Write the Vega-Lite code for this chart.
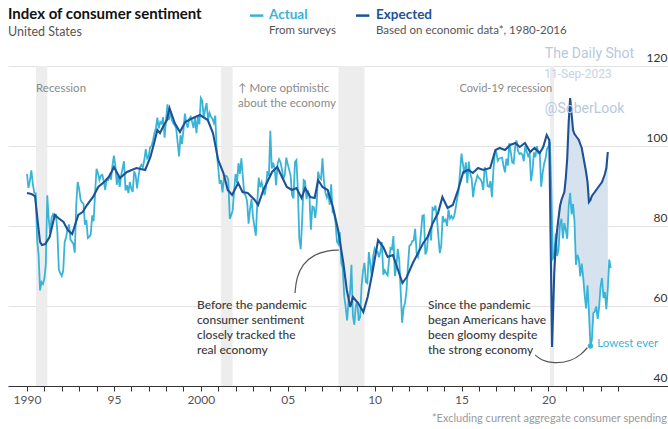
{
  "$schema": "https://vega.github.io/schema/vega-lite/v6.json",
  "width": 660,
  "height": 320,
  "autosize": "none",
  "padding": {"left": 8, "top": 66, "right": 0, "bottom": 43},
  "background": "white",
  "config": {"view": {"stroke": null}},
  "encoding": {
    "x": {
      "field": "x", "type": "quantitative",
      "scale": {"domain": [1988.907, 2026.88], "nice": false, "zero": false},
      "axis": {
        "title": null, "grid": false,
        "values": [1990,1991,1992,1993,1994,1995,1996,1997,1998,1999,2000,2001,2002,2003,2004,2005,2006,2007,2008,2009,2010,2011,2012,2013,2014,2015,2016,2017,2018,2019,2020,2021,2022,2023,2024],
        "labelExpr": "datum.value % 5 != 0 ? '' : ((datum.value == 1990 || datum.value == 2000) ? datum.value + '' : slice(datum.value + '', 2))",
        "domainColor": "#333333", "domainWidth": 1,
        "tickColor": "#333333", "tickSize": 5, "tickWidth": 1,
        "labelFont": "Lato", "labelFontSize": 12, "labelColor": "#555555",
        "labelPadding": 3, "labelOverlap": false, "labelBound": false, "labelFlush": false
      }
    },
    "y": {
      "field": "y", "type": "quantitative",
      "scale": {"domain": [40, 120], "nice": false, "zero": false},
      "axis": {
        "title": null, "orient": "right", "values": [40, 60, 80, 100, 120],
        "grid": true, "gridColor": "#e2e2e2", "gridWidth": 1,
        "domain": false, "ticks": false,
        "labelAlign": "right", "labelBaseline": "alphabetic", "labelPadding": -1, "labelOffset": -5,
        "labelFont": "Lato", "labelFontSize": 12, "labelColor": "#333333",
        "labelBound": false, "labelFlush": false
      }
    }
  },
  "layer": [
    {
      "data": {"values": [
        {"x": 1990.52, "x2": 1991.17, "y": 40, "y2": 120},
        {"x": 2001.17, "x2": 2001.83, "y": 40, "y2": 120},
        {"x": 2007.92, "x2": 2009.42, "y": 40, "y2": 120},
        {"x": 2020.08, "x2": 2020.33, "y": 40, "y2": 120}
      ]},
      "mark": {"type": "rect", "color": "#ededed"},
      "encoding": {"x2": {"field": "x2"}, "y2": {"field": "y2"}}
    },
    {
      "data": {"values": [
        {"x": 2020.417, "y": 78.1, "y2": 75},
        {"x": 2020.5, "y": 72.5, "y2": 79},
        {"x": 2020.583, "y": 74.1, "y2": 82},
        {"x": 2020.667, "y": 80.4, "y2": 85},
        {"x": 2020.75, "y": 81.8, "y2": 86.5},
        {"x": 2020.833, "y": 76.9, "y2": 87.5},
        {"x": 2020.917, "y": 80.7, "y2": 88.5},
        {"x": 2021.0, "y": 79.0, "y2": 92},
        {"x": 2021.083, "y": 76.8, "y2": 97},
        {"x": 2021.167, "y": 84.9, "y2": 106},
        {"x": 2021.25, "y": 88.3, "y2": 112},
        {"x": 2021.333, "y": 82.9, "y2": 108},
        {"x": 2021.417, "y": 85.5, "y2": 104},
        {"x": 2021.5, "y": 81.2, "y2": 103},
        {"x": 2021.583, "y": 70.3, "y2": 102.5},
        {"x": 2021.667, "y": 72.8, "y2": 102},
        {"x": 2021.75, "y": 71.7, "y2": 101.5},
        {"x": 2021.833, "y": 67.4, "y2": 100.5},
        {"x": 2021.917, "y": 70.6, "y2": 99.5},
        {"x": 2022.0, "y": 67.2, "y2": 97.5},
        {"x": 2022.083, "y": 62.8, "y2": 95.5},
        {"x": 2022.167, "y": 59.4, "y2": 93.5},
        {"x": 2022.25, "y": 65.2, "y2": 91},
        {"x": 2022.333, "y": 58.4, "y2": 86},
        {"x": 2022.417, "y": 50.0, "y2": 86.5},
        {"x": 2022.5, "y": 51.5, "y2": 87.5},
        {"x": 2022.583, "y": 58.2, "y2": 88},
        {"x": 2022.667, "y": 58.6, "y2": 88.5},
        {"x": 2022.75, "y": 59.9, "y2": 89},
        {"x": 2022.833, "y": 56.8, "y2": 89.5},
        {"x": 2022.917, "y": 59.7, "y2": 90},
        {"x": 2023.0, "y": 64.9, "y2": 90.5},
        {"x": 2023.083, "y": 67.0, "y2": 91},
        {"x": 2023.167, "y": 62.0, "y2": 92},
        {"x": 2023.25, "y": 63.5, "y2": 93},
        {"x": 2023.333, "y": 59.2, "y2": 94.5},
        {"x": 2023.417, "y": 64.4, "y2": 98.5}
      ]},
      "mark": {"type": "area", "color": "#d6e2ee", "opacity": 1},
      "encoding": {"y2": {"field": "y2"}}
    },
    {
      "data": {"values": [
        {"x":1990,"y":93.0},{"x":1990.083,"y":89.5},{"x":1990.167,"y":91.3},{"x":1990.25,"y":93.9},{"x":1990.333,"y":90.6},{"x":1990.417,"y":88.3},{"x":1990.5,"y":88.2},{"x":1990.583,"y":76.4},{"x":1990.667,"y":72.8},{"x":1990.75,"y":63.9},{"x":1990.833,"y":66.0},{"x":1990.917,"y":65.5},
        {"x":1991,"y":66.8},{"x":1991.083,"y":70.4},{"x":1991.167,"y":87.7},{"x":1991.25,"y":81.8},{"x":1991.333,"y":78.3},{"x":1991.417,"y":82.1},{"x":1991.5,"y":82.9},{"x":1991.583,"y":82.0},{"x":1991.667,"y":83.0},{"x":1991.75,"y":78.3},{"x":1991.833,"y":69.1},{"x":1991.917,"y":68.2},
        {"x":1992,"y":67.5},{"x":1992.083,"y":68.8},{"x":1992.167,"y":76.0},{"x":1992.25,"y":77.2},{"x":1992.333,"y":79.2},{"x":1992.417,"y":80.4},{"x":1992.5,"y":76.6},{"x":1992.583,"y":76.1},{"x":1992.667,"y":75.6},{"x":1992.75,"y":73.3},{"x":1992.833,"y":85.3},{"x":1992.917,"y":91.0},
        {"x":1993,"y":89.3},{"x":1993.083,"y":86.6},{"x":1993.167,"y":85.9},{"x":1993.25,"y":85.6},{"x":1993.333,"y":80.3},{"x":1993.417,"y":81.5},{"x":1993.5,"y":77.0},{"x":1993.583,"y":77.3},{"x":1993.667,"y":77.9},{"x":1993.75,"y":82.7},{"x":1993.833,"y":81.2},{"x":1993.917,"y":88.2},
        {"x":1994,"y":94.3},{"x":1994.083,"y":93.2},{"x":1994.167,"y":91.5},{"x":1994.25,"y":92.6},{"x":1994.333,"y":92.8},{"x":1994.417,"y":91.2},{"x":1994.5,"y":89.0},{"x":1994.583,"y":91.7},{"x":1994.667,"y":91.5},{"x":1994.75,"y":92.7},{"x":1994.833,"y":91.6},{"x":1994.917,"y":95.1},
        {"x":1995,"y":97.6},{"x":1995.083,"y":95.1},{"x":1995.167,"y":90.3},{"x":1995.25,"y":92.5},{"x":1995.333,"y":89.8},{"x":1995.417,"y":92.7},{"x":1995.5,"y":94.4},{"x":1995.583,"y":96.2},{"x":1995.667,"y":88.9},{"x":1995.75,"y":90.2},{"x":1995.833,"y":88.2},{"x":1995.917,"y":91.0},
        {"x":1996,"y":89.3},{"x":1996.083,"y":88.5},{"x":1996.167,"y":93.7},{"x":1996.25,"y":92.7},{"x":1996.333,"y":89.4},{"x":1996.417,"y":92.4},{"x":1996.5,"y":94.7},{"x":1996.583,"y":95.3},{"x":1996.667,"y":94.7},{"x":1996.75,"y":96.5},{"x":1996.833,"y":99.2},{"x":1996.917,"y":96.9},
        {"x":1997,"y":97.4},{"x":1997.083,"y":99.7},{"x":1997.167,"y":100.0},{"x":1997.25,"y":101.4},{"x":1997.333,"y":103.2},{"x":1997.417,"y":104.5},{"x":1997.5,"y":107.1},{"x":1997.583,"y":104.4},{"x":1997.667,"y":106.0},{"x":1997.75,"y":105.6},{"x":1997.833,"y":107.2},{"x":1997.917,"y":102.1},
        {"x":1998,"y":106.6},{"x":1998.083,"y":110.4},{"x":1998.167,"y":106.5},{"x":1998.25,"y":108.7},{"x":1998.333,"y":106.5},{"x":1998.417,"y":105.6},{"x":1998.5,"y":105.2},{"x":1998.583,"y":104.4},{"x":1998.667,"y":100.9},{"x":1998.75,"y":97.4},{"x":1998.833,"y":102.7},{"x":1998.917,"y":100.5},
        {"x":1999,"y":103.9},{"x":1999.083,"y":108.1},{"x":1999.167,"y":105.7},{"x":1999.25,"y":104.6},{"x":1999.333,"y":106.8},{"x":1999.417,"y":107.3},{"x":1999.5,"y":106.0},{"x":1999.583,"y":104.5},{"x":1999.667,"y":107.2},{"x":1999.75,"y":103.2},{"x":1999.833,"y":107.2},{"x":1999.917,"y":105.4},
        {"x":2000,"y":112.0},{"x":2000.083,"y":111.3},{"x":2000.167,"y":107.1},{"x":2000.25,"y":109.2},{"x":2000.333,"y":110.7},{"x":2000.417,"y":106.4},{"x":2000.5,"y":108.3},{"x":2000.583,"y":107.3},{"x":2000.667,"y":106.8},{"x":2000.75,"y":105.8},{"x":2000.833,"y":107.6},{"x":2000.917,"y":98.4},
        {"x":2001,"y":94.7},{"x":2001.083,"y":90.6},{"x":2001.167,"y":91.5},{"x":2001.25,"y":88.4},{"x":2001.333,"y":92.0},{"x":2001.417,"y":92.6},{"x":2001.5,"y":92.4},{"x":2001.583,"y":91.5},{"x":2001.667,"y":81.8},{"x":2001.75,"y":82.7},{"x":2001.833,"y":83.9},{"x":2001.917,"y":88.8},
        {"x":2002,"y":93.0},{"x":2002.083,"y":90.7},{"x":2002.167,"y":95.7},{"x":2002.25,"y":93.0},{"x":2002.333,"y":96.9},{"x":2002.417,"y":92.4},{"x":2002.5,"y":88.1},{"x":2002.583,"y":87.6},{"x":2002.667,"y":86.1},{"x":2002.75,"y":80.6},{"x":2002.833,"y":84.2},{"x":2002.917,"y":86.7},
        {"x":2003,"y":82.4},{"x":2003.083,"y":79.9},{"x":2003.167,"y":77.6},{"x":2003.25,"y":86.0},{"x":2003.333,"y":92.1},{"x":2003.417,"y":89.7},{"x":2003.5,"y":90.9},{"x":2003.583,"y":89.3},{"x":2003.667,"y":87.7},{"x":2003.75,"y":89.6},{"x":2003.833,"y":93.7},{"x":2003.917,"y":92.6},
        {"x":2004,"y":103.8},{"x":2004.083,"y":94.4},{"x":2004.167,"y":95.8},{"x":2004.25,"y":94.2},{"x":2004.333,"y":90.2},{"x":2004.417,"y":95.6},{"x":2004.5,"y":96.7},{"x":2004.583,"y":95.9},{"x":2004.667,"y":94.2},{"x":2004.75,"y":91.7},{"x":2004.833,"y":92.8},{"x":2004.917,"y":97.1},
        {"x":2005,"y":95.5},{"x":2005.083,"y":94.1},{"x":2005.167,"y":92.6},{"x":2005.25,"y":87.7},{"x":2005.333,"y":86.9},{"x":2005.417,"y":96.0},{"x":2005.5,"y":96.5},{"x":2005.583,"y":89.1},{"x":2005.667,"y":76.9},{"x":2005.75,"y":74.2},{"x":2005.833,"y":81.6},{"x":2005.917,"y":91.5},
        {"x":2006,"y":91.2},{"x":2006.083,"y":86.7},{"x":2006.167,"y":88.9},{"x":2006.25,"y":87.4},{"x":2006.333,"y":79.1},{"x":2006.417,"y":84.9},{"x":2006.5,"y":84.7},{"x":2006.583,"y":82.0},{"x":2006.667,"y":85.4},{"x":2006.75,"y":93.6},{"x":2006.833,"y":92.1},{"x":2006.917,"y":91.7},
        {"x":2007,"y":96.9},{"x":2007.083,"y":91.3},{"x":2007.167,"y":88.4},{"x":2007.25,"y":87.1},{"x":2007.333,"y":88.3},{"x":2007.417,"y":85.3},{"x":2007.5,"y":90.4},{"x":2007.583,"y":83.4},{"x":2007.667,"y":83.4},{"x":2007.75,"y":80.9},{"x":2007.833,"y":76.1},{"x":2007.917,"y":75.5},
        {"x":2008,"y":78.4},{"x":2008.083,"y":70.8},{"x":2008.167,"y":69.5},{"x":2008.25,"y":62.6},{"x":2008.333,"y":59.8},{"x":2008.417,"y":56.4},{"x":2008.5,"y":61.2},{"x":2008.583,"y":63.0},{"x":2008.667,"y":70.3},{"x":2008.75,"y":57.6},{"x":2008.833,"y":55.3},{"x":2008.917,"y":60.1},
        {"x":2009,"y":61.2},{"x":2009.083,"y":56.3},{"x":2009.167,"y":57.3},{"x":2009.25,"y":65.1},{"x":2009.333,"y":68.7},{"x":2009.417,"y":70.8},{"x":2009.5,"y":66.0},{"x":2009.583,"y":65.7},{"x":2009.667,"y":73.5},{"x":2009.75,"y":70.6},{"x":2009.833,"y":67.4},{"x":2009.917,"y":72.5},
        {"x":2010,"y":74.4},{"x":2010.083,"y":73.6},{"x":2010.167,"y":73.6},{"x":2010.25,"y":72.2},{"x":2010.333,"y":73.6},{"x":2010.417,"y":76.0},{"x":2010.5,"y":67.8},{"x":2010.583,"y":68.9},{"x":2010.667,"y":68.2},{"x":2010.75,"y":67.7},{"x":2010.833,"y":71.6},{"x":2010.917,"y":74.5},
        {"x":2011,"y":74.2},{"x":2011.083,"y":77.5},{"x":2011.167,"y":67.5},{"x":2011.25,"y":69.8},{"x":2011.333,"y":74.3},{"x":2011.417,"y":71.5},{"x":2011.5,"y":63.7},{"x":2011.583,"y":55.8},{"x":2011.667,"y":59.5},{"x":2011.75,"y":60.8},{"x":2011.833,"y":63.7},{"x":2011.917,"y":69.9},
        {"x":2012,"y":75.0},{"x":2012.083,"y":75.3},{"x":2012.167,"y":76.2},{"x":2012.25,"y":76.4},{"x":2012.333,"y":79.3},{"x":2012.417,"y":73.2},{"x":2012.5,"y":72.3},{"x":2012.583,"y":74.3},{"x":2012.667,"y":78.3},{"x":2012.75,"y":82.6},{"x":2012.833,"y":82.7},{"x":2012.917,"y":72.9},
        {"x":2013,"y":73.8},{"x":2013.083,"y":77.6},{"x":2013.167,"y":78.6},{"x":2013.25,"y":76.4},{"x":2013.333,"y":84.5},{"x":2013.417,"y":84.1},{"x":2013.5,"y":85.1},{"x":2013.583,"y":82.1},{"x":2013.667,"y":77.5},{"x":2013.75,"y":73.2},{"x":2013.833,"y":75.1},{"x":2013.917,"y":82.5},
        {"x":2014,"y":81.2},{"x":2014.083,"y":81.6},{"x":2014.167,"y":80.0},{"x":2014.25,"y":84.1},{"x":2014.333,"y":81.9},{"x":2014.417,"y":82.5},{"x":2014.5,"y":81.8},{"x":2014.583,"y":82.5},{"x":2014.667,"y":84.6},{"x":2014.75,"y":86.9},{"x":2014.833,"y":88.8},{"x":2014.917,"y":93.6},
        {"x":2015,"y":98.1},{"x":2015.083,"y":95.4},{"x":2015.167,"y":93.0},{"x":2015.25,"y":95.9},{"x":2015.333,"y":90.7},{"x":2015.417,"y":96.1},{"x":2015.5,"y":93.1},{"x":2015.583,"y":91.9},{"x":2015.667,"y":87.2},{"x":2015.75,"y":90.0},{"x":2015.833,"y":91.3},{"x":2015.917,"y":92.6},
        {"x":2016,"y":92.0},{"x":2016.083,"y":91.7},{"x":2016.167,"y":91.0},{"x":2016.25,"y":89.0},{"x":2016.333,"y":94.7},{"x":2016.417,"y":93.5},{"x":2016.5,"y":90.0},{"x":2016.583,"y":89.8},{"x":2016.667,"y":91.2},{"x":2016.75,"y":87.2},{"x":2016.833,"y":93.8},{"x":2016.917,"y":98.2},
        {"x":2017,"y":98.5},{"x":2017.083,"y":96.3},{"x":2017.167,"y":96.9},{"x":2017.25,"y":97.0},{"x":2017.333,"y":97.1},{"x":2017.417,"y":95.0},{"x":2017.5,"y":93.4},{"x":2017.583,"y":96.8},{"x":2017.667,"y":95.1},{"x":2017.75,"y":100.7},{"x":2017.833,"y":98.5},{"x":2017.917,"y":95.9},
        {"x":2018,"y":95.7},{"x":2018.083,"y":99.7},{"x":2018.167,"y":101.4},{"x":2018.25,"y":98.8},{"x":2018.333,"y":98.0},{"x":2018.417,"y":98.2},{"x":2018.5,"y":97.9},{"x":2018.583,"y":96.2},{"x":2018.667,"y":100.1},{"x":2018.75,"y":98.6},{"x":2018.833,"y":97.5},{"x":2018.917,"y":98.3},
        {"x":2019,"y":91.2},{"x":2019.083,"y":93.8},{"x":2019.167,"y":98.4},{"x":2019.25,"y":97.2},{"x":2019.333,"y":100.0},{"x":2019.417,"y":98.2},{"x":2019.5,"y":98.4},{"x":2019.583,"y":89.8},{"x":2019.667,"y":93.2},{"x":2019.75,"y":95.5},{"x":2019.833,"y":96.8},{"x":2019.917,"y":99.3},
        {"x":2020,"y":99.8},{"x":2020.083,"y":101.0},{"x":2020.167,"y":89.1},{"x":2020.25,"y":71.8},{"x":2020.333,"y":72.3},{"x":2020.417,"y":78.1},{"x":2020.5,"y":72.5},{"x":2020.583,"y":74.1},{"x":2020.667,"y":80.4},{"x":2020.75,"y":81.8},{"x":2020.833,"y":76.9},{"x":2020.917,"y":80.7},
        {"x":2021,"y":79.0},{"x":2021.083,"y":76.8},{"x":2021.167,"y":84.9},{"x":2021.25,"y":88.3},{"x":2021.333,"y":82.9},{"x":2021.417,"y":85.5},{"x":2021.5,"y":81.2},{"x":2021.583,"y":70.3},{"x":2021.667,"y":72.8},{"x":2021.75,"y":71.7},{"x":2021.833,"y":67.4},{"x":2021.917,"y":70.6},
        {"x":2022,"y":67.2},{"x":2022.083,"y":62.8},{"x":2022.167,"y":59.4},{"x":2022.25,"y":65.2},{"x":2022.333,"y":58.4},{"x":2022.417,"y":50.0},{"x":2022.5,"y":51.5},{"x":2022.583,"y":58.2},{"x":2022.667,"y":58.6},{"x":2022.75,"y":59.9},{"x":2022.833,"y":56.8},{"x":2022.917,"y":59.7},
        {"x":2023,"y":64.9},{"x":2023.083,"y":67.0},{"x":2023.167,"y":62.0},{"x":2023.25,"y":63.5},{"x":2023.333,"y":59.2},{"x":2023.417,"y":64.4},{"x":2023.5,"y":71.6},{"x":2023.583,"y":69.5}
      ]},
      "mark": {"type": "line", "color": "#3ab4d6", "strokeWidth": 1.8}
    },
    {
      "data": {"values": [
        {"x":1990.0,"y":88.25},{"x":1990.25,"y":88},{"x":1990.46,"y":87.5},{"x":1990.62,"y":81},{"x":1990.75,"y":76},{"x":1990.86,"y":75.25},{"x":1991.05,"y":75.5},{"x":1991.3,"y":77.25},{"x":1991.6,"y":82.75},{"x":1991.8,"y":82},{"x":1992.1,"y":81},{"x":1992.35,"y":79},{"x":1992.6,"y":78},{"x":1992.95,"y":82.75},{"x":1993.2,"y":83.5},{"x":1993.45,"y":85.25},{"x":1993.8,"y":87.25},{"x":1994.1,"y":89.75},{"x":1994.5,"y":91.25},{"x":1994.75,"y":92.5},{"x":1995.0,"y":94.75},{"x":1995.35,"y":92},{"x":1995.75,"y":93.5},{"x":1996.3,"y":94.5},{"x":1996.8,"y":94},{"x":1997.1,"y":97.25},{"x":1997.3,"y":100.5},{"x":1997.5,"y":104},{"x":1997.65,"y":103.25},{"x":1997.85,"y":105},{"x":1998.05,"y":106.5},{"x":1998.2,"y":109.5},{"x":1998.5,"y":105.75},{"x":1998.8,"y":103.5},{"x":1999.1,"y":106},{"x":1999.55,"y":107},{"x":1999.95,"y":107.75},{"x":2000.4,"y":106.5},{"x":2000.7,"y":103.25},{"x":2001.0,"y":96.5},{"x":2001.3,"y":93.25},{"x":2001.55,"y":89},{"x":2001.8,"y":87.75},{"x":2002.15,"y":90.75},{"x":2002.4,"y":88.5},{"x":2002.7,"y":88.25},{"x":2003.1,"y":86.5},{"x":2003.3,"y":85.25},{"x":2003.6,"y":89},{"x":2004.1,"y":93.5},{"x":2004.4,"y":94.75},{"x":2004.7,"y":92},{"x":2004.95,"y":89.75},{"x":2005.25,"y":89},{"x":2005.5,"y":89.5},{"x":2005.8,"y":87},{"x":2006.0,"y":89.5},{"x":2006.3,"y":87.25},{"x":2006.55,"y":87},{"x":2006.75,"y":91.5},{"x":2007.0,"y":89.75},{"x":2007.3,"y":89},{"x":2007.6,"y":84.75},{"x":2007.9,"y":79},{"x":2008.2,"y":70.75},{"x":2008.4,"y":64},{"x":2008.6,"y":59.75},{"x":2008.75,"y":62.25},{"x":2009.05,"y":60.75},{"x":2009.35,"y":58.5},{"x":2009.6,"y":62.25},{"x":2009.9,"y":69},{"x":2010.2,"y":76.5},{"x":2010.5,"y":74.75},{"x":2010.75,"y":72.25},{"x":2011.05,"y":72.75},{"x":2011.35,"y":69},{"x":2011.6,"y":65.75},{"x":2011.85,"y":67.25},{"x":2012.2,"y":70.75},{"x":2012.5,"y":73.25},{"x":2012.8,"y":75.75},{"x":2013.05,"y":77.25},{"x":2013.35,"y":80.75},{"x":2013.65,"y":83.25},{"x":2013.9,"y":87.25},{"x":2014.2,"y":84.5},{"x":2014.5,"y":85.25},{"x":2014.8,"y":89},{"x":2015.1,"y":93.5},{"x":2015.4,"y":94},{"x":2015.65,"y":93.25},{"x":2015.95,"y":94.5},{"x":2016.25,"y":94},{"x":2016.65,"y":94.5},{"x":2016.95,"y":99},{"x":2017.2,"y":99.5},{"x":2017.5,"y":99},{"x":2017.8,"y":100.25},{"x":2018.1,"y":100.75},{"x":2018.35,"y":99.75},{"x":2018.65,"y":100.75},{"x":2018.95,"y":98.5},{"x":2019.2,"y":99.5},{"x":2019.5,"y":98.25},{"x":2019.7,"y":99.75},{"x":2019.9,"y":102.75},{"x":2020.05,"y":101.5},{"x":2020.21,"y":49.75},
        {"x":2020.333,"y":68},{"x":2020.417,"y":75},{"x":2020.5,"y":79},{"x":2020.583,"y":82},{"x":2020.667,"y":85},{"x":2020.75,"y":86.5},{"x":2020.833,"y":87.5},{"x":2020.917,"y":88.5},{"x":2021.0,"y":92},{"x":2021.083,"y":97},{"x":2021.167,"y":106},{"x":2021.25,"y":112},{"x":2021.333,"y":108},{"x":2021.417,"y":104},{"x":2021.5,"y":103},{"x":2021.583,"y":102.5},{"x":2021.667,"y":102},{"x":2021.75,"y":101.5},{"x":2021.833,"y":100.5},{"x":2021.917,"y":99.5},{"x":2022.0,"y":97.5},{"x":2022.083,"y":95.5},{"x":2022.167,"y":93.5},{"x":2022.25,"y":91},{"x":2022.333,"y":86},{"x":2022.417,"y":86.5},{"x":2022.5,"y":87.5},{"x":2022.583,"y":88},{"x":2022.667,"y":88.5},{"x":2022.75,"y":89},{"x":2022.833,"y":89.5},{"x":2022.917,"y":90},{"x":2023.0,"y":90.5},{"x":2023.083,"y":91},{"x":2023.167,"y":92},{"x":2023.25,"y":93},{"x":2023.333,"y":94.5},{"x":2023.417,"y":98.5}
      ]},
      "mark": {"type": "line", "color": "#1d5396", "strokeWidth": 2.1}
    },
    {
      "data": {"values": [
        {"arc": "a", "x": 2005.42, "y": 63.25},
        {"arc": "a", "x": 2005.5, "y": 67.0},
        {"arc": "a", "x": 2005.85, "y": 70.5},
        {"arc": "a", "x": 2006.5, "y": 72.8},
        {"arc": "a", "x": 2007.3, "y": 73.9},
        {"arc": "a", "x": 2007.95, "y": 74.0},
        {"arc": "b", "x": 2019.24, "y": 47.75},
        {"arc": "b", "x": 2019.6, "y": 46.4},
        {"arc": "b", "x": 2020.3, "y": 45.6},
        {"arc": "b", "x": 2021.3, "y": 46.2},
        {"arc": "b", "x": 2021.9, "y": 47.9},
        {"arc": "b", "x": 2022.24, "y": 49.6}
      ]},
      "mark": {"type": "line", "color": "#555555", "strokeWidth": 1.2, "interpolate": "basis"},
      "encoding": {"detail": {"field": "arc"}}
    },
    {
      "data": {"values": [{"x": 2022.417, "y": 50.0}]},
      "mark": {"type": "point", "filled": true, "color": "#3ab4d6", "size": 28, "opacity": 1}
    },
    {
      "data": {"values": [{"x": 1988.907, "y": 131.75, "text": "Index of consumer sentiment"}]},
      "mark": {"type": "text", "align": "left", "baseline": "alphabetic", "font": "Lato", "fontSize": 15, "fontWeight": "bold", "color": "#111111"},
      "encoding": {"text": {"field": "text"}}
    },
    {
      "data": {"values": [{"x": 1988.907, "y": 127.6, "text": "United States"}]},
      "mark": {"type": "text", "align": "left", "baseline": "alphabetic", "font": "Lato", "fontSize": 12.5, "color": "#555555"},
      "encoding": {"text": {"field": "text"}}
    },
    {
      "data": {"values": [
        {"x": 1990.52, "y": 114.25, "text": "Recession"},
        {"x": 2002.14, "y": 114.25, "text": "↑ More optimistic"},
        {"x": 2002.14, "y": 110.4, "text": "about the economy"}
      ]},
      "mark": {"type": "text", "align": "left", "baseline": "middle", "font": "Lato", "fontSize": 11.5, "color": "#8a8a8a"},
      "encoding": {"text": {"field": "text"}}
    },
    {
      "data": {"values": [{"x": 2020.21, "y": 114.25, "text": "Covid-19 recession"}]},
      "mark": {"type": "text", "align": "right", "baseline": "middle", "font": "Lato", "fontSize": 11, "color": "#8a8a8a"},
      "encoding": {"text": {"field": "text"}}
    },
    {
      "data": {"values": [
        {"x": 1999.78, "y": 60.25, "text": "Before the pandemic"},
        {"x": 1999.78, "y": 56.5, "text": "consumer sentiment"},
        {"x": 1999.78, "y": 52.75, "text": "closely tracked the"},
        {"x": 1999.78, "y": 49.0, "text": "real economy"},
        {"x": 2013.07, "y": 60.25, "text": "Since the pandemic"},
        {"x": 2013.07, "y": 56.5, "text": "began Americans have"},
        {"x": 2013.07, "y": 52.75, "text": "been gloomy despite"},
        {"x": 2013.07, "y": 49.0, "text": "the strong economy"}
      ]},
      "mark": {"type": "text", "align": "left", "baseline": "middle", "font": "Lato", "fontSize": 12, "fontWeight": 500, "color": "#3a3a3a"},
      "encoding": {"text": {"field": "text"}}
    },
    {
      "data": {"values": [{"x": 2022.81, "y": 50.4, "text": "Lowest ever"}]},
      "mark": {"type": "text", "align": "left", "baseline": "middle", "font": "Lato", "fontSize": 11.5, "color": "#3ab4d6"},
      "encoding": {"text": {"field": "text"}}
    },
    {
      "data": {"values": [
        {"x": 2002.83, "x2": 2003.6, "y": 132.6, "s": "Actual"},
        {"x": 2008.93, "x2": 2009.7, "y": 132.6, "s": "Expected"}
      ]},
      "mark": {"type": "rule", "strokeWidth": 2.5},
      "encoding": {
        "x2": {"field": "x2"},
        "color": {"field": "s", "type": "nominal", "scale": {"domain": ["Actual", "Expected"], "range": ["#3ab4d6", "#1d5396"]}, "legend": null}
      }
    },
    {
      "data": {"values": [
        {"x": 2003.92, "y": 132.75, "s": "Actual"},
        {"x": 2010.08, "y": 132.75, "s": "Expected"}
      ]},
      "mark": {"type": "text", "align": "left", "baseline": "middle", "font": "Lato", "fontSize": 13.5, "fontWeight": "bold"},
      "encoding": {
        "text": {"field": "s"},
        "color": {"field": "s", "type": "nominal", "scale": {"domain": ["Actual", "Expected"], "range": ["#3ab4d6", "#1d5396"]}, "legend": null}
      }
    },
    {
      "data": {"values": [
        {"x": 2003.92, "y": 128.75, "text": "From surveys"},
        {"x": 2010.08, "y": 128.75, "text": "Based on economic data*, 1980-2016"}
      ]},
      "mark": {"type": "text", "align": "left", "baseline": "middle", "font": "Lato", "fontSize": 11.5, "color": "#555555"},
      "encoding": {"text": {"field": "text"}}
    },
    {
      "data": {"values": [
        {"x": 2022.36, "y": 123.0, "text": "The Daily Shot"},
        {"x": 2022.08, "y": 109.25, "text": "@SoberLook"}
      ]},
      "mark": {"type": "text", "align": "center", "baseline": "middle", "font": "Roboto", "fontSize": 14, "color": "#b6c9dd"},
      "encoding": {"text": {"field": "text"}}
    },
    {
      "data": {"values": [{"x": 2021.7, "y": 118.0, "text": "11-Sep-2023"}]},
      "mark": {"type": "text", "align": "center", "baseline": "middle", "font": "Roboto", "fontSize": 12, "color": "#c5d3e2"},
      "encoding": {"text": {"field": "text"}}
    },
    {
      "data": {"values": [{"x": 2026.82, "y": 31.75, "text": "*Excluding current aggregate consumer spending"}]},
      "mark": {"type": "text", "align": "right", "baseline": "middle", "font": "Lato", "fontSize": 11, "color": "#9a9a9a"},
      "encoding": {"text": {"field": "text"}}
    }
  ]
}
